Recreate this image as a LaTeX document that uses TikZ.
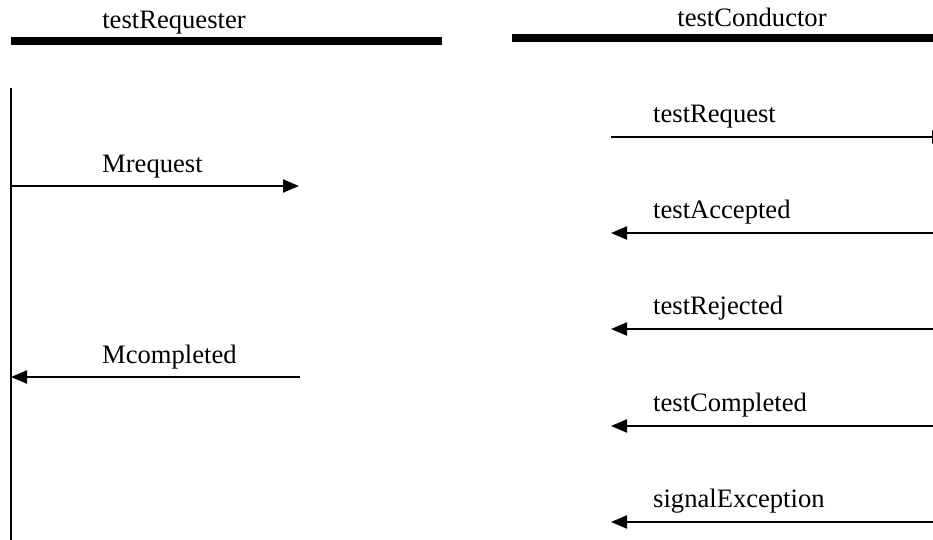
\documentclass[tikz,border=0pt]{standalone}
\usepackage{fontspec}
\setmainfont{Liberation Serif}
\usetikzlibrary{arrows.meta}
\tikzset{
  lbl/.style={inner sep=0pt, anchor=base west, font=\fontsize{26.6}{30}\selectfont},
  ttl/.style={inner sep=0pt, anchor=base, font=\fontsize{26.6}{30}\selectfont},
  bar/.style={line width=8pt},
  life/.style={line width=2pt},
  msg/.style={line width=2pt, -{Triangle[length=16pt,width=13pt]}},
}
\begin{document}
\begin{tikzpicture}[x=1pt,y=-1pt]
\useasboundingbox (0,0) rectangle (933,540);

% object headers
\node[ttl] (req) at (174,29) {testRequester};
\node[ttl] (con) at (752,27) {testConductor};
\draw[bar] (11,41) -- (442,41);
\draw[bar] (512,38) -- (950,38);

% testRequester lifeline
\coordinate (rtop) at (11,88);
\coordinate (rbot) at (11,545);
\draw[life] (rtop) -- (rbot);

% messages on the requester side
\coordinate (mq1) at (11,186);
\coordinate (mq2) at (299,186);
\draw[msg] (mq1) -- (mq2);
\node[lbl] (mqt) at (102,172) {Mrequest};

\coordinate (mc1) at (300,377);
\coordinate (mc2) at (11,377);
\draw[msg] (mc1) -- (mc2);
\node[lbl] (mct) at (102,363) {Mcompleted};

% messages on the conductor side
\coordinate (tq1) at (611,137);
\coordinate (tq2) at (948,137);
\draw[msg] (tq1) -- (tq2);
\node[lbl] (tqt) at (653,123) {testRequest};

\foreach \y/\t [count=\i] in {233/testAccepted, 329/testRejected, 426/testCompleted, 522/signalException}{
  \coordinate (s\i) at (948,\y);
  \coordinate (e\i) at (611,\y);
  \draw[msg] (s\i) -- (e\i);
  \node[lbl] (t\i) at (653,\y-15) {\t};
}
\end{tikzpicture}
\end{document}
